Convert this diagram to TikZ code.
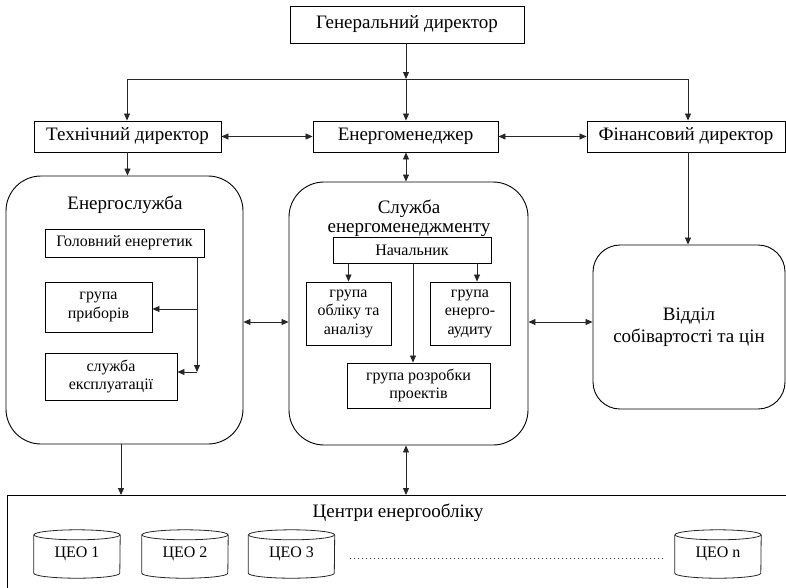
\documentclass[tikz,border=0pt]{standalone}
\usepackage{fontspec}
\setmainfont{Liberation Serif}
\usetikzlibrary{arrows.meta,calc}
\begin{document}
\begin{tikzpicture}[x=1pt,y=-1pt,
  box/.style={draw=black, line width=0.9pt, rectangle, inner sep=0pt, align=center},
  big/.style={box, font=\fontsize{19}{21}\selectfont},
  small/.style={box, font=\fontsize{16}{18.5}\selectfont},
  unit/.style={draw=black, line width=0.9pt, rectangle, rounded corners=35pt, inner sep=0pt, align=center},
  title/.style={inner sep=0pt, align=center, font=\fontsize{19}{19.5}\selectfont},
  arr/.style={draw=black!85, line width=0.8pt, -{Triangle[length=7pt,width=6pt]}},
  darr/.style={draw=black!85, line width=0.8pt, {Triangle[length=7pt,width=6pt]}-{Triangle[length=7pt,width=6pt]}},
  ln/.style={draw=black!85, line width=0.8pt},
  cylnode/.style={draw=none, inner sep=0pt, minimum width=86, minimum height=48, font=\fontsize{16}{18}\selectfont},
  cylline/.style={draw=black!85, line width=0.8pt},
]
\clip (0,0) rectangle (786,587);

% top level
\node[big, minimum width=234, minimum height=37] (gen) at (407,24.5) {Генеральний директор};
\node[big, minimum width=187, minimum height=31] (tech) at (127.5,136.5) {Технічний директор};
\node[big, minimum width=185, minimum height=31] (em) at (405.5,136.5) {Енергоменеджер};
\node[big, minimum width=198, minimum height=31] (fin) at (686,136.5) {Фінансовий директор};

\coordinate (busL) at (127,79);
\coordinate (busM) at (406,79);
\coordinate (busR) at (688,79);
\draw[arr] (gen.south -| busM) -- (busM);
\draw[ln] (busL) -- (busR);
\draw[arr] (busL) -- (busL |- tech.north);
\draw[arr] (busM) -- (busM |- em.north);
\draw[arr] (busR) -- (busR |- fin.north);
\draw[darr] (tech.east) -- (em.west);
\draw[darr] (em.east) -- (fin.west);

% departments
\node[unit, minimum width=237, minimum height=268] (es) at (124.5,310) {};
\node[unit, minimum width=239, minimum height=263] (sem) at (408.5,313.5) {};
\node[unit, rounded corners=27pt, minimum width=192, minimum height=164,
      font=\fontsize{19}{22}\selectfont] (dep) at (689,327) {Відділ\\собівартості та цін};

\node[title] (est) at (125,205) {Енергослужба};
\node[title] (semt) at (409,218) {Служба\\енергоменеджменту};

\draw[arr] (tech.south) -- (tech.south |- es.north);
\draw[darr] (busM |- em.south) -- (busM |- sem.north);
\draw[arr] (busR |- fin.south) -- (busR |- dep.north);

\coordinate (h1) at (0,322);
\draw[darr] (es.east |- h1) -- (sem.west |- h1);
\draw[darr] (sem.east |- h1) -- (dep.west |- h1);

% inside the energy service
\node[small, minimum width=159, minimum height=28] (head) at (124.5,243) {Головний енергетик};
\node[small, minimum width=107, minimum height=50] (grp) at (98.5,307) {група\\приборів};
\node[small, minimum width=132, minimum height=47] (expl) at (111,376.5) {служба\\експлуатації};
\coordinate (jb) at (197,309);
\coordinate (jt) at (197,372);
\draw[arr] (head.south -| jt) -- (jt);
\draw[arr] (jb) -- (jb -| grp.east);
\draw[arr] (jt) -- (jt -| expl.east);

% inside the energy management service
\node[small, minimum width=158, minimum height=26] (chief) at (412,250) {Начальник};
\node[small, minimum width=85, minimum height=63] (acc) at (348.5,313.5) {група\\обліку та\\аналізу};
\node[small, minimum width=80, minimum height=63] (aud) at (470,313.5) {група\\енерго-\\аудиту};
\node[small, minimum width=143, minimum height=45] (proj) at (418.5,385.5) {група розробки\\проектів};
\draw[arr] (chief.south -| acc.north) -- (acc.north);
\draw[arr] ([xshift=7pt]aud.north |- chief.south) -- ([xshift=7pt]aud.north);
\draw[arr] ([xshift=-5.5pt]proj.north |- chief.south) -- ([xshift=-5.5pt]proj.north);

% metering centres
\node[box, minimum width=820, minimum height=130, anchor=north west] (ceo) at (7,495) {};
\node[title, font=\fontsize{19}{21}\selectfont] (ceot) at (398,513) {Центри енергообліку};
\coordinate (v1) at (121,0);
\draw[arr] (es.south -| v1) -- (ceo.north -| v1);
\draw[darr] (busM |- sem.south) -- (busM |- ceo.north);

\node[cylnode] (c1) at (77,554) {ЦЕО 1};
\node[cylnode] (c2) at (185,554) {ЦЕО 2};
\node[cylnode] (c3) at (291.5,554) {ЦЕО 3};
\node[cylnode] (cn) at (718,554) {ЦЕО n};
\foreach \n in {c1,c2,c3,cn}{
  \draw[cylline] ([yshift=-5pt]\n.north) ellipse[x radius=43, y radius=5];
  \draw[cylline] ([yshift=-5pt]\n.north west) -- ([yshift=5pt]\n.south west)
     arc[start angle=180, end angle=0, x radius=43, y radius=5]
     -- ([yshift=-5pt]\n.north east);
}
\draw[black!85, line width=0.9pt, dash pattern=on 1pt off 3pt]
  ($(c3.east)+(15,4)$) -- ($(cn.west)+(-13,4)$);
\end{tikzpicture}
\end{document}
